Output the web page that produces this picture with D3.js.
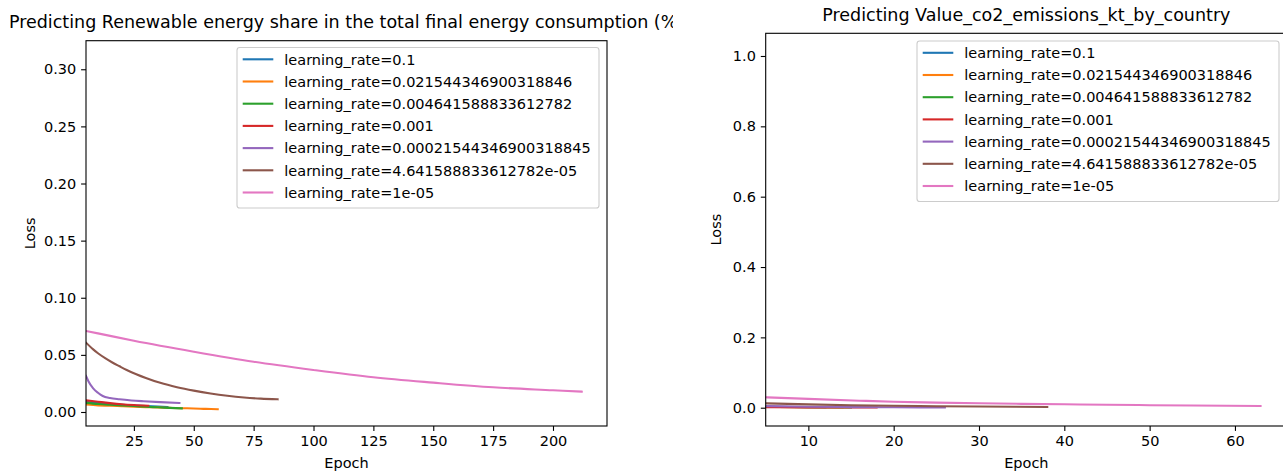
<!DOCTYPE html>
<html><head><meta charset="utf-8">
<script src="https://cdn.jsdelivr.net/npm/d3@7"></script>
<style>
body{margin:0;background:#fff;}
svg{display:block;font-family:"DejaVu Sans",sans-serif;}
</style></head>
<body>
<svg id="c" width="1283" height="472"></svg>
<script>
// ---- data ----
const lrLabels = ["learning_rate=0.1","learning_rate=0.021544346900318846","learning_rate=0.004641588833612782","learning_rate=0.001","learning_rate=0.00021544346900318845","learning_rate=4.641588833612782e-05","learning_rate=1e-05"];
const colors = ["#1f77b4","#ff7f0e","#2ca02c","#d62728","#9467bd","#8c564b","#e377c2"];

// Chart 1: Renewable energy share — [epoch, loss]
const renew_lr0 = [[5,.0088],[10,.0078],[15,.0070],[20,.0063],[25,.0057],[30,.0052],[35,.0048],[39,.0044]];
const renew_lr1 = [[5,.0066],[10,.0058],[15,.0055],[20,.0050],[25,.0046],[30,.0043],[35,.0040],[40,.0036],[45,.0033],[50,.0031],[55,.0027],[60,.0024]];
const renew_lr2 = [[5,.0080],[10,.0070],[15,.0063],[20,.0057],[25,.0052],[30,.0046],[35,.0041],[40,.0036],[45,.0032]];
const renew_lr3 = [[5,.0102],[10,.0090],[15,.0078],[20,.0068],[25,.0061],[31,.0055]];
const renew_lr4 = [[5,.0315],[6,.0270],[8,.0207],[10,.0168],[12,.0140],[15,.0122],[19,.0111],[24,.0101],[29,.0094],[36,.0086],[44,.0079]];
const renew_lr5 = [[5,.0607],[8,.0548],[10,.0514],[13,.0471],[16,.0433],[19,.0400],[22,.0368],[26,.0331],[30,.0298],[36,.0255],[43,.0217],[50,.0187],[57,.0162],[64,.0142],[71,.0127],[78,.0117],[85,.0111]];
const renew_lr6 = [[5,.0709],[10,.0688],[25,.0624],[50,.0528],[75,.0440],[100,.0368],[125,.0304],[150,.0257],[175,.0216],[200,.0190],[212,.0178]];

// Chart 2: CO2 emissions — [epoch, loss]
const co2_lr0 = [[5,.0030],[8,.0022],[12,.0018]];
const co2_lr1 = [[5,.0025],[10,.0016],[14,.0012]];
const co2_lr2 = [[5,.0020],[10,.0014],[15,.0010]];
const co2_lr3 = [[5,.0015],[10,.0010],[18,.0006]];
const co2_lr4 = [[5,.0045],[10,.0028],[15,.0018],[20,.0012],[26,.0008]];
const co2_lr5 = [[5,.0125],[10,.0095],[15,.0072],[20,.0055],[25,.0042],[30,.0033],[38,.0022]];
const co2_lr6 = [[5,.0296],[10,.0250],[16,.0200],[20,.0170],[25,.0145],[30,.0125],[35,.0110],[40,.0097],[45,.0085],[50,.0072],[55,.0062],[63,.0048]];

const renewTitle = "Predicting Renewable energy share in the total final energy consumption (%)";
const co2Title = "Predicting Value_co2_emissions_kt_by_country";
const renewXTicks = [25,50,75,100,125,150,175,200];
const renewYTicks = [0,0.05,0.10,0.15,0.20,0.25,0.30];
const co2XTicks = [10,20,30,40,50,60];
const co2YTicks = [0,0.2,0.4,0.6,0.8,1.0];

// ---- drawing ----
const FS = 14.5, TFS = 17.5;
const svg = d3.select("#c");
const defs = svg.append("defs");
defs.append("clipPath").attr("id","leftimg").append("rect").attr("x",0).attr("y",0).attr("width",673).attr("height",472);

function panel(opt){
  const root = svg.append("g");
  if(opt.clip) root.attr("clip-path","url(#"+opt.clip+")");
  const x = d3.scaleLinear().domain(opt.xd).range([opt.L,opt.R]);
  const y = d3.scaleLinear().domain(opt.yd).range([opt.B,opt.T]);
  const cid = opt.id+"clip";
  defs.append("clipPath").attr("id",cid).append("rect")
    .attr("x",opt.L).attr("y",opt.T).attr("width",opt.R-opt.L).attr("height",opt.B-opt.T);
  const line = d3.line().x(d=>x(d[0])).y(d=>y(d[1])).curve(d3.curveMonotoneX);
  const lg = root.append("g").attr("clip-path","url(#"+cid+")");
  opt.series.forEach((s,i)=>{
    lg.append("path").attr("d",line(s)).attr("fill","none")
      .attr("stroke",colors[i]).attr("stroke-width",2.1).attr("stroke-linecap","square");
  });
  // axes
  const xa = d3.axisBottom(x).tickValues(opt.xt).tickSize(4.9).tickPadding(4.9).tickFormat(d3.format("d"));
  const ya = d3.axisLeft(y).tickValues(opt.yt).tickSize(4.9).tickPadding(4.9).tickFormat(d3.format(opt.yf));
  const gx = root.append("g").attr("transform","translate(0,"+opt.B+")").call(xa);
  const gy = root.append("g").attr("transform","translate("+opt.L+",0)").call(ya);
  [gx,gy].forEach(g=>{
    g.select(".domain").remove();
    g.selectAll("line").attr("stroke","#000").attr("stroke-width",1.1);
    g.selectAll("text").attr("font-size",FS).attr("fill","#000").attr("font-family","DejaVu Sans");
  });
  root.append("rect").attr("x",opt.L).attr("y",opt.T).attr("width",opt.R-opt.L).attr("height",opt.B-opt.T)
    .attr("fill","none").attr("stroke","#000").attr("stroke-width",1.1);
  // labels
  root.append("text").attr("x",(opt.L+opt.R)/2).attr("y",468).attr("text-anchor","middle")
    .attr("font-size",FS).text("Epoch");
  root.append("text").attr("transform","translate("+opt.yl+","+((opt.T+opt.B)/2)+") rotate(-90)")
    .attr("text-anchor","middle").attr("font-size",FS).text("Loss");
  root.append("text").attr("x",(opt.L+opt.R)/2).attr("y",opt.T-12.5).attr("text-anchor","middle")
    .attr("font-size",TFS).text(opt.title);
  // legend
  const lx = opt.lx, ly = opt.ly, rowH = 22.2;
  const leg = root.append("g");
  leg.append("rect").attr("x",lx).attr("y",ly).attr("width",362).attr("height",160.5).attr("rx",2.8)
    .attr("fill","#fff").attr("fill-opacity",0.8).attr("stroke","#cccccc").attr("stroke-width",1.1);
  lrLabels.forEach((t,i)=>{
    const cy = ly + 11.8 + i*rowH;
    leg.append("line").attr("x1",lx+5.7).attr("x2",lx+36.3).attr("y1",cy).attr("y2",cy)
      .attr("stroke",colors[i]).attr("stroke-width",2.1);
    leg.append("text").attr("x",lx+47.3).attr("y",cy+5.2).attr("font-size",FS).text(t);
  });
}

panel({id:"p1", clip:"leftimg", L:86, R:607, T:40.7, B:426, xd:[5,222.55], yd:[-0.01226,0.325],
  xt:renewXTicks, yt:renewYTicks, yf:".2f", yl:34.5, title:renewTitle, lx:237, ly:47.5,
  series:[renew_lr0,renew_lr1,renew_lr2,renew_lr3,renew_lr4,renew_lr5,renew_lr6]});
panel({id:"p2", L:765.7, R:1287, T:33.3, B:426, xd:[5,66.1], yd:[-0.052,1.0645],
  xt:co2XTicks, yt:co2YTicks, yf:".1f", yl:721, title:co2Title, lx:917, ly:41,
  series:[co2_lr0,co2_lr1,co2_lr2,co2_lr3,co2_lr4,co2_lr5,co2_lr6]});
</script>
</body></html>
